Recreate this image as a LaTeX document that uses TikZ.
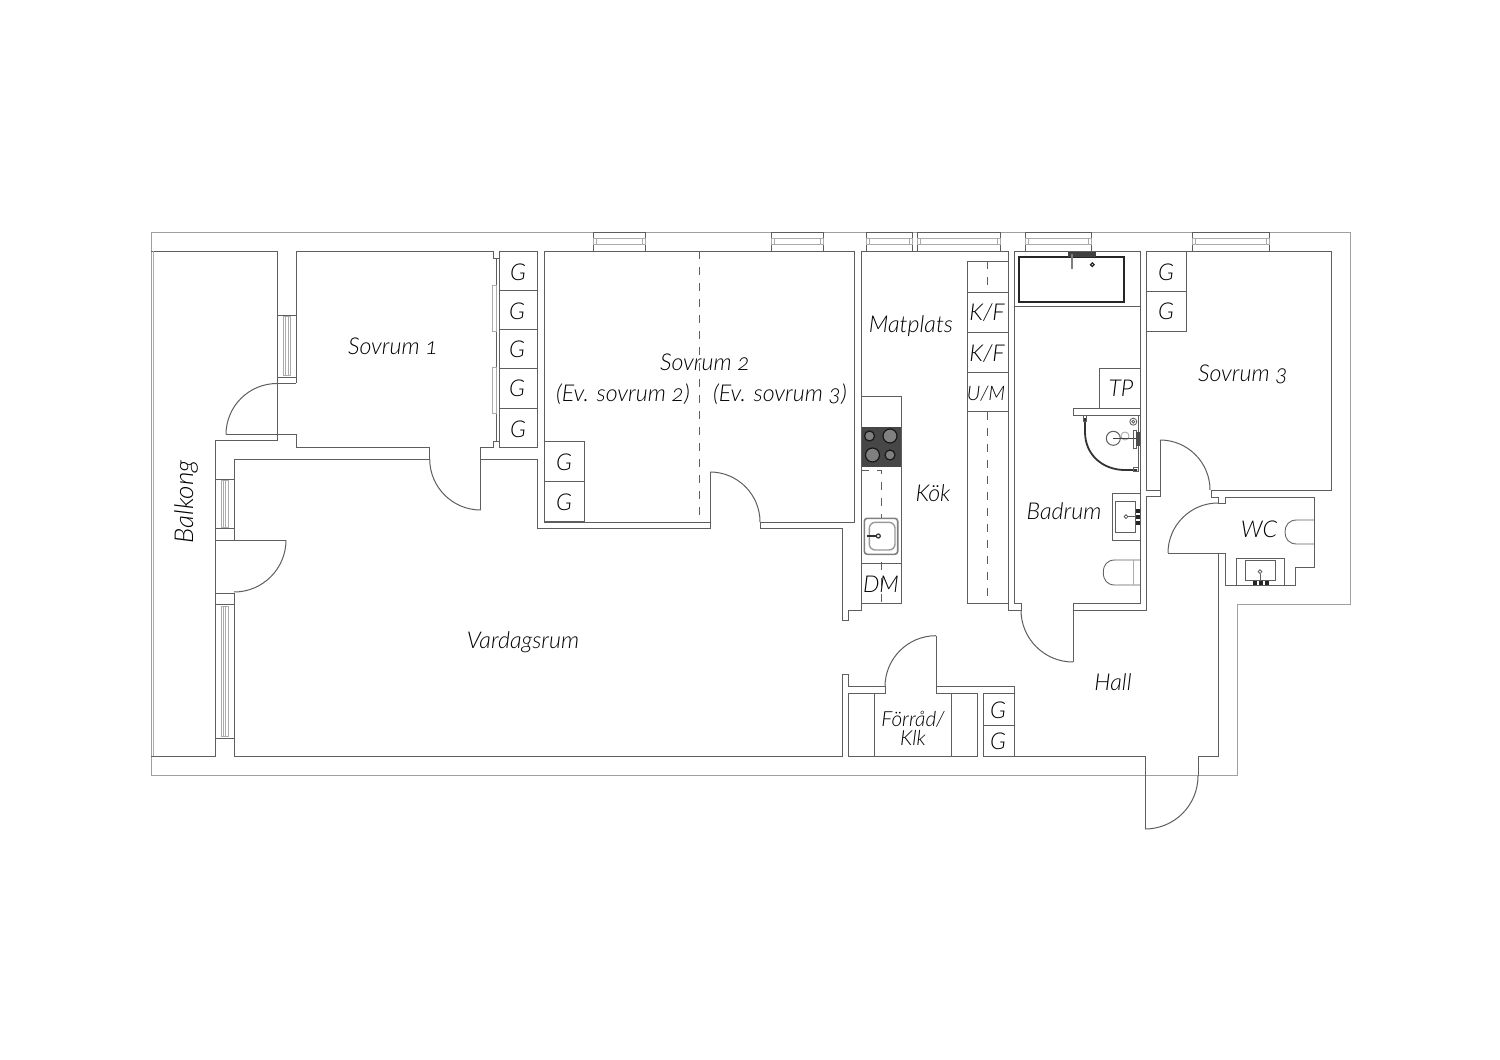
\documentclass[tikz,border=0pt]{standalone}
\usepackage{fontspec}
\setmainfont{Lato}[Numbers=OldStyle,ItalicFont={Lato Light Italic},BoldFont={Lato Bold}]
\definecolor{wallc}{HTML}{5E5E5E}
\definecolor{outerc}{HTML}{A0A0A0}
\definecolor{lightc}{HTML}{ABABAB}
\definecolor{txtc}{HTML}{000000}
\tikzset{
  wall/.style={draw=wallc,line width=0.5pt,line join=miter},
  outerline/.style={draw=outerc,line width=0.5pt},
  lite/.style={draw=lightc,line width=0.45pt},
  cab/.style={draw=wallc,line width=0.42pt},
  dashline/.style={draw=wallc,line width=0.4pt,dash pattern=on 4pt off 4pt},
  blk/.style={fill=black!80,draw=none},
  lbl/.style={text=txtc,font=\fontsize{11.6}{12}\selectfont\itshape,inner sep=0pt},
  sml/.style={text=txtc,font=\fontsize{10}{9.2}\selectfont\itshape,inner sep=0pt,align=center},
  fksty/.style={text=txtc,font=\fontsize{10.4}{9.2}\selectfont\itshape,inner sep=0pt},
  bksty/.style={text=txtc,font=\fontsize{13}{12}\selectfont\itshape,inner sep=0pt},
}
\begin{document}
\begin{tikzpicture}[x=0.5pt,y=-0.5pt]
\useasboundingbox (0,0) rectangle (1500,1060);
\fill[white] (0,0) rectangle (1500,1060);

% outer outline
\draw[outerline] (151,232) -- (1350,232) -- (1350,604) -- (1237,604) -- (1237,775) -- (151,775) -- cycle;

% balcony
\draw[wall] (151,251) -- (277,251) -- (277,440) -- (215,440) -- (215,756) -- (151,756);
\draw[lite] (153.5,251) -- (153.5,756);

% top windows
\foreach \a/\b in {593/645,771/823,866/912,917/1000,1025/1091,1192/1269}{
  \draw[wall] (\a,251) -- (\a,232) -- (\b,232) -- (\b,251);
  \draw[lite] (\a,238) rectangle (\b,244.5);
  \draw[lite] (\a+3,238) -- (\a+3,244.5) (\b-3,238) -- (\b-3,244.5);
}

% Sovrum 1
\draw[wall] (296,383) -- (296,251) -- (493,251) -- (493,258) -- (499,258);
\draw[wall] (496,258) -- (496,441);
\draw[wall] (499,441) -- (493,441) -- (493,447) -- (480.7,447) -- (480.7,510);
\draw[wall] (429.7,459) -- (429.7,447) -- (296,447) -- (296,434.5) -- (226,434.5);
\draw[wall] (277,383.5) -- (296,383.5) (277,377) -- (296,377) (277,315) -- (296,315);
\draw[lite] (283.5,316.5) rectangle (290,375);
\draw[lite] (285.5,316.5) -- (285.5,375) (288,316.5) -- (288,375);
\draw[wall] (226,434.5) arc[start angle=180,end angle=270,radius=51];
\draw[lite] (492.7,285) rectangle (496,331);
\draw[lite] (492.7,367.7) rectangle (496,413);
% closets Sovrum 1
\draw[cab] (499,251) rectangle (537.5,447);
\foreach \y in {290,329.3,368.7,408}{\draw[cab] (499,\y) -- (537.5,\y);}

% Vardagsrum
\draw[wall] (234,540) -- (234,459) -- (429.7,459);
\draw[wall] (480.7,459) -- (537.5,459) -- (537.5,528) -- (710,528) -- (710,472);
\draw[wall] (760,522) -- (760,528) -- (842,528) -- (842,620) -- (848,620) -- (848,610) -- (861,610) -- (861,251) -- (1008,251) -- (1008,610) -- (1021,610) -- (1021,603) -- (1014.3,603) -- (1014.3,251) -- (1140,251) -- (1140,603) -- (1073,603) -- (1073,662);
\draw[wall] (429.7,459) arc[start angle=180,end angle=90,radius=51];
\draw[wall] (710,472) arc[start angle=270,end angle=360,radius=50];
% left wall
\draw[wall] (234,593) -- (234,756) -- (842,756) -- (842,674) -- (848,674) -- (848,686.7) -- (885,686.7) -- (885,693) -- (848,693) -- (848,756) -- (977,756) -- (977,693) -- (936,693) -- (936,636);
\draw[wall] (215,479.3) -- (234,479.3) (215,528) -- (234,528) (215,540) -- (286,540) (215,593) -- (234,593) (215,604) -- (234,604) (215,738) -- (234,738);
\draw[lite] (221,480.7) rectangle (228,527);
\draw[lite] (223.3,480.7) -- (223.3,527) (225.6,480.7) -- (225.6,527);
\draw[lite] (221,606) rectangle (228,736);
\draw[lite] (223.3,606) -- (223.3,736) (225.6,606) -- (225.6,736);
\draw[wall] (286,540) arc[start angle=0,end angle=90,radius=52];

% Sovrum 2
\draw[wall] (710,522) -- (544,522) -- (544,251) -- (854,251) -- (854,522) -- (760,522);
\draw[dashline] (699,251) -- (699,522);
\draw[cab] (544,441.7) rectangle (584,521.7);
\draw[cab] (544,481.7) -- (584,481.7);

% Storage / Hall
\draw[wall] (936,686.7) -- (1014.3,686.7) -- (1014.3,756) -- (1145,756) -- (1145,829);
\draw[wall] (885,686.7) arc[start angle=180,end angle=270,radius=51];
\draw[cab] (874.3,693) -- (874.3,756) (951,693) -- (951,756);
\draw[wall] (983,756) -- (983,693) -- (1014.3,693);
\draw[wall] (983,756) -- (1014.3,756);
\draw[cab] (983,725) -- (1014.3,725);
\draw[wall] (1198,776) -- (1198,756) -- (1218,756) -- (1218,553) -- (1168,553);
\draw[wall] (1145,829) arc[start angle=90,end angle=0,radius=53];

% Kitchen
\draw[cab] (861,396.7) -- (901,396.7) -- (901,603) -- (861,603);
\draw[cab] (861,563.3) -- (901,563.3);
\fill[black!72] (862,426.7) rectangle (901,466.7);
\foreach \cx/\cy/\r in {869.5/436/6,890/436/8,872.5/455/8,890/455/6}{
  \draw[draw=black!90,fill=black!50,line width=0.6pt] (\cx,\cy) circle[radius=\r-1];
}
\draw[dashline] (861,470) -- (881,470) -- (881,603);
\draw[fill=white,draw=black!50,line width=0.8pt,rounded corners=1.5pt] (864.3,518.3) rectangle (897.7,554.3);
\draw[draw=black!40,line width=0.7pt,rounded corners=3pt] (869.3,522.3) rectangle (895,550);
\draw[draw=black!80,line width=0.8pt] (866.7,536) -- (876.3,536);
\draw[draw=black!80,line width=0.6pt] (878.3,536) circle[radius=2];

% Kitchen right cabinets
\draw[cab] (1007.7,261) -- (967.7,261) -- (967.7,603) -- (1007.7,603);
\foreach \y in {292.3,332.3,372,411.7}{\draw[cab] (967.7,\y) -- (1007.7,\y);}
\draw[dashline] (987.7,261) -- (987.7,292.3) (987.7,411.7) -- (987.7,603);

% Badrum
\draw[draw=black!85,line width=0.9pt] (1019,257.3) rectangle (1124.3,302.3);
\draw[wall] (1014.3,306) -- (1140,306);
\fill[black!75] (1068.3,251.7) rectangle (1095.7,257.3);
\draw[draw=black!50,line width=1pt] (1071.7,254) -- (1071.7,269.3);
\draw[draw=black!85,line width=0.6pt] (1092.3,264.7) circle[radius=1.8];
\draw[cab] (1099.3,408.3) -- (1099.3,368.3) -- (1140,368.3);
\draw[wall] (1140,408.3) -- (1073.3,408.3) -- (1073.3,415.7) -- (1140,415.7);
% shower
\draw[draw=black!80,line width=0.9pt] (1085,418) -- (1085,432) .. controls (1085,455) and (1103,470) .. (1125,470) -- (1137,470);
\draw[cab] (1083.5,415.7) rectangle (1086.5,421);
\draw[cab] (1133,467.5) rectangle (1138.5,471.5);
\draw[cab] (1138.3,415.7) -- (1138.3,470);
\draw[wall] (1113.3,438.3) circle[radius=7];
\draw[lite] (1125,436) circle[radius=4];
\draw[draw=black!75,line width=0.5pt] (1113.3,438.3) -- (1138,438.3);
\draw[cab] (1133.3,430) rectangle (1136,448);
\fill[black!70] (1135.5,432) rectangle (1139.5,446);
\draw[cab] (1133.3,421.7) circle[radius=3.5];
\draw[cab] (1133.3,421.7) circle[radius=1.5];
% sink Badrum
\draw[cab] (1140,493) -- (1112.7,493) -- (1112.7,540) -- (1140,540);
\draw[cab] (1115.7,501) rectangle (1135.7,532.3);
\draw[cab] (1128,516.7) -- (1135.7,516.7);
\draw[cab] (1126,516.7) circle[radius=1.9];
\foreach \y in {508.5,514.7,520.9}{\fill[black!85] (1135.7,\y) rectangle (1140,\y+4.4);}
% toilet Badrum
\draw[cab] (1140,560) -- (1115,560) .. controls (1107,560) and (1103.3,565) .. (1103.3,572.5) .. controls (1103.3,580) and (1107,585) .. (1115,585) -- (1140,585);
\draw[lite] (1133.3,560) -- (1133.3,585);

% wall between bath and Sovrum 3 / Hall
\draw[wall] (1073,610) -- (1146.7,610) -- (1146.7,496.7) -- (1160,496.7) -- (1160,440);
\draw[wall] (1021,610) arc[start angle=180,end angle=90,radius=52];

% Sovrum 3
\draw[wall] (1160,490) -- (1146.7,490) -- (1146.7,251) -- (1331,251) -- (1331,490) -- (1211,490);
\draw[wall] (1160,440) arc[start angle=270,end angle=360,radius=50];
\draw[cab] (1146.7,331) -- (1186.7,331) -- (1186.7,251);
\draw[cab] (1146.7,291) -- (1186.7,291);

% WC
\draw[wall] (1211,490) -- (1211,497) -- (1218,497) -- (1218,503) -- (1225,503) -- (1225,497) -- (1314,497) -- (1314,567) -- (1295,567) -- (1295,585) -- (1225,585) -- (1225,553) -- (1218,553);
\draw[wall] (1168,553) arc[start angle=180,end angle=270,radius=50];
\draw[cab] (1314,520) -- (1297,520) .. controls (1289,520) and (1285,525) .. (1285,532) .. controls (1285,539) and (1289,544) .. (1297,544) -- (1314,544);
\draw[cab] (1236.7,585) -- (1236.7,558.3) -- (1284.3,558.3) -- (1284.3,585);
\draw[cab] (1245,560.7) rectangle (1275,580.7);
\draw[cab] (1260,573.5) -- (1260,581);
\draw[cab] (1260,571.7) circle[radius=1.9];
\foreach \x in {1252.5,1258.5,1264.5}{\fill[black!85] (\x,581) rectangle (\x+4,585);}

% labels
\node[lbl] (s1) at (393,346.5) {Sovrum 1};
\node[lbl] (s2) at (705,362.5) {Sovrum 2};
\node[lbl] (e2) at (623,394) {(Ev. sovrum 2)};
\node[lbl] (e3) at (780,394) {(Ev. sovrum 3)};
\node[lbl] (mp) at (911,326.5) {Matplats};
\node[lbl] (kok) at (933,493.5) {Kök};
\node[lbl] (bad) at (1064,511) {Badrum};
\node[lbl] (tp) at (1121,388) {TP};
\node[lbl] (s3) at (1243,374.5) {Sovrum 3};
\node[lbl] (wc) at (1259,529) {WC};
\node[lbl] (hall) at (1113,682.5) {Hall};
\node[lbl] (vr) at (523,642) {Vardagsrum};
\node[bksty,rotate=90] (bk) at (186,502) {Balkong};
\node[lbl] (kf1) at (987,313) {K/F};
\node[lbl] (kf2) at (987,354) {K/F};
\node[sml] (um) at (986,394) {U/M};
\node[lbl] (dm) at (881,584) {DM};
\node[fksty,anchor=base] (fk1) at (913,726) {Förråd/};
\node[fksty,anchor=base] (fk2) at (913,745.5) {Klk};
\foreach \n/\x/\y in {g1/518/272,g2/517/311,g3/517/349,g4/517/388,g5/518/429,g6/564/462,g7/564/502,g8/1166/272,g9/1166/311,g10/998/710,g11/998/741}{
  \node[lbl] (\n) at (\x,\y) {G};
}
\end{tikzpicture}
\end{document}
